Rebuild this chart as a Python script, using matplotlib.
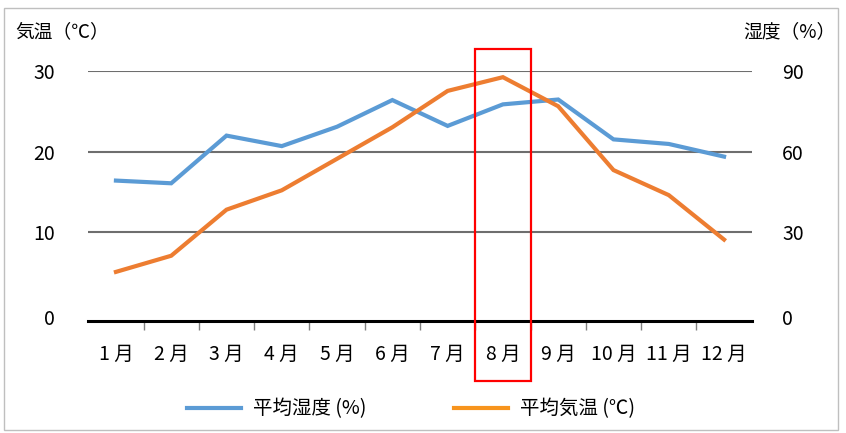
import numpy as np
import matplotlib
matplotlib.use("Agg")
import matplotlib.pyplot as plt
from matplotlib.patches import Rectangle

plt.rcParams['font.family'] = ['Noto Sans CJK JP', 'DejaVu Sans']

months = ["1 月", "2 月", "3 月", "4 月", "5 月", "6 月",
          "7 月", "8 月", "9 月", "10 月", "11 月", "12 月"]
temp = [5.1, 7.1, 12.8, 15.2, 19.1, 23.0, 27.5, 29.2, 25.6, 17.7, 14.6, 9.1]
humid = [49.2, 48.2, 65.9, 62.0, 69.2, 79.1, 69.5, 77.5, 79.3, 64.5, 62.8, 58.1]
temp_ticks = [0, 10, 20, 30]
humid_ticks = [0, 30, 60, 90]
highlight = "8 月"

BLUE = '#5B9BD5'
ORANGE = '#ED7D31'
GRID = '#6E6E6E'

W, H = 846, 433
fig = plt.figure(figsize=(W / 100, H / 100), dpi=100)
# axes box in pixels: x 88..752, y 71 (top, value 30) .. 321 (black base line)
ax = fig.add_axes([88.3 / W, (H - 320.7) / H, 663.4 / W, 250 / H])
ax2 = ax.twinx()
ax.set_zorder(2)
ax2.set_zorder(1)
ax.patch.set_visible(False)

ymin = -0.94     # the base line sits a little below 0
zero_lab = -0.48  # where the "0" labels sit
x = np.arange(len(months))

# gridlines and humidity on the lower layer
for v in humid_ticks[1:]:
    ax2.axhline(v, color=GRID, lw=1.5, zorder=0)
ax2.plot(x, humid, color=BLUE, lw=3, solid_joinstyle='miter', zorder=2)
ax.plot(x, temp, color=ORANGE, lw=3, solid_joinstyle='miter', zorder=3)

ax.set_xlim(-0.5, len(months) - 0.5)
ax.set_ylim(ymin, 30)
ax2.set_ylim(ymin * 3, 90)

for a in (ax, ax2):
    for s in a.spines.values():
        s.set_visible(False)
ax.spines['bottom'].set_visible(True)
ax.spines['bottom'].set_color('black')
ax.spines['bottom'].set_linewidth(2.2)

ax.set_yticks([zero_lab] + temp_ticks[1:], [str(t) for t in temp_ticks])
ax.tick_params(axis='y', length=0, pad=24, labelsize=14)
ax2.set_yticks([zero_lab * 3] + humid_ticks[1:], [str(t) for t in humid_ticks])
ax2.tick_params(axis='y', length=0, pad=22, labelsize=14)

ax.set_xticks(x, months)
ax.set_xticks(np.arange(0.5, len(months) - 1, 1), minor=True)
ax.tick_params(axis='x', which='major', length=0, pad=17, labelsize=14)
ax.tick_params(axis='x', which='minor', length=6.5, width=1, color='#808080')

# axis titles
fig.text(15 / W, 1 - 32 / H, "気温（℃）", fontsize=13.5, va='center', ha='left')
fig.text(836 / W, 1 - 32 / H, "湿度（%）", fontsize=13.5, va='center', ha='right')

# red box around the highlighted month
hi = months.index(highlight)
ax.add_patch(Rectangle((hi - 0.5, -0.241), 1, 1.328,
                       transform=ax.get_xaxis_transform(), fill=False,
                       ec='#FF0000', lw=1.6, clip_on=False, zorder=5))

# legend
h1, = ax2.plot([], [], color=BLUE, lw=3)
h2, = ax.plot([], [], color='#F7941D', lw=3)
fig.legend([h1, h2], ["平均湿度 (%)", "平均気温 (℃)"], ncol=2, frameon=False,
           loc='center', bbox_to_anchor=(411 / W, 1 - 409 / H), fontsize=14,
           handlelength=2.8, handletextpad=0.6, columnspacing=4.5,
           borderpad=0)

# outer frame
fig.add_artist(Rectangle((4 / W, 3 / H), 834 / W, 422 / H,
                         transform=fig.transFigure, fill=False,
                         ec='#BFBFBF', lw=1))

fig.savefig('out.png', dpi=100)
